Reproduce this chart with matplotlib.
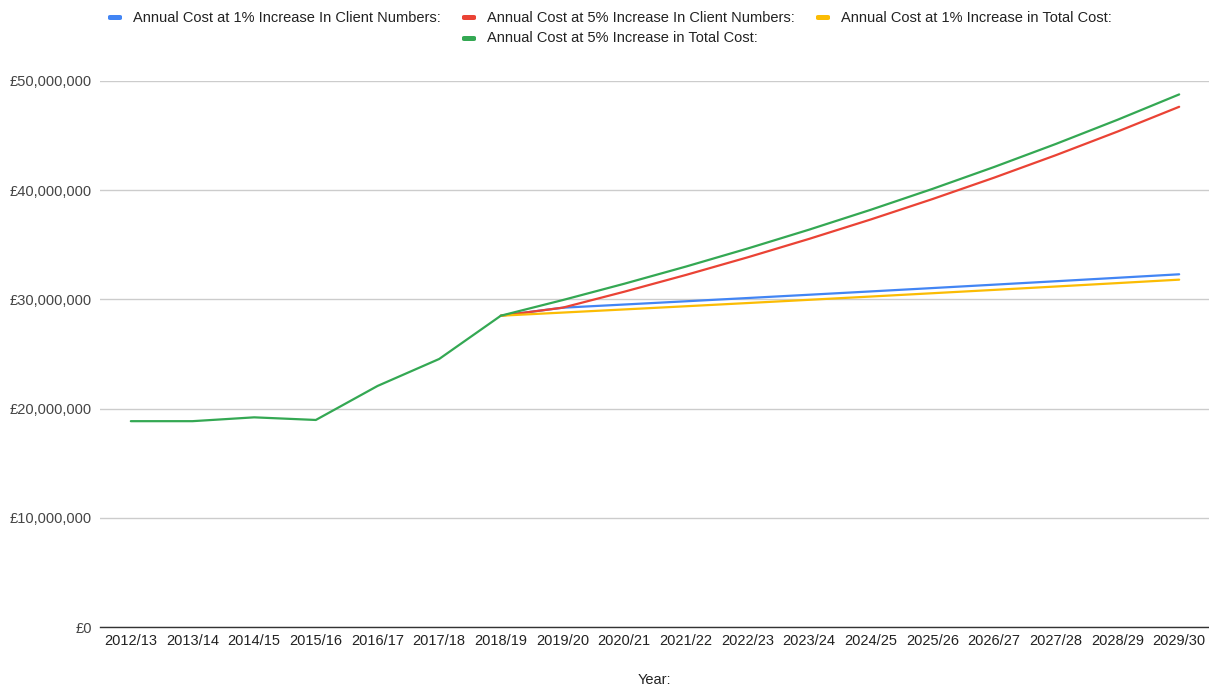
import matplotlib
matplotlib.use("Agg")
import matplotlib.pyplot as plt
from matplotlib.patches import FancyBboxPatch
from matplotlib.ticker import FuncFormatter

plt.rcParams["font.family"] = ["Liberation Sans", "DejaVu Sans"]

years = ["2012/13", "2013/14", "2014/15", "2015/16", "2016/17", "2017/18",
         "2018/19", "2019/20", "2020/21", "2021/22", "2022/23", "2023/24",
         "2024/25", "2025/26", "2026/27", "2027/28", "2028/29", "2029/30"]

# Recorded annual cost, shared by every scenario up to 2018/19
history = [18_850_000, 18_850_000, 19_200_000, 18_960_000,
           22_070_000, 24_540_000, 28_500_000]

# Projected annual cost, 2019/20 onwards
client_1pct = [29_230_000, 29_522_000, 29_818_000, 30_116_000, 30_417_000,
               30_721_000, 31_028_000, 31_339_000, 31_652_000, 31_968_000,
               32_288_000]
client_5pct = [29_230_000, 30_692_000, 32_226_000, 33_837_000, 35_529_000,
               37_306_000, 39_171_000, 41_130_000, 43_186_000, 45_345_000,
               47_613_000]
total_1pct = [28_785_000, 29_073_000, 29_364_000, 29_657_000, 29_954_000,
              30_253_000, 30_556_000, 30_861_000, 31_170_000, 31_482_000,
              31_797_000]
total_5pct = [29_925_000, 31_421_000, 32_992_000, 34_642_000, 36_374_000,
              38_193_000, 40_102_000, 42_107_000, 44_213_000, 46_424_000,
              48_745_000]

series_names = ["Annual Cost at 1% Increase In Client Numbers:",
                "Annual Cost at 5% Increase In Client Numbers:",
                "Annual Cost at 1% Increase in Total Cost:",
                "Annual Cost at 5% Increase in Total Cost:"]
series_values = [history + client_1pct, history + client_5pct,
                 history + total_1pct, history + total_5pct]
colors = ["#4285F4", "#EA4335", "#FBBC04", "#34A853"]

W, H = 1209, 688
fig = plt.figure(figsize=(W / 100, H / 100), dpi=100)
fig.patch.set_facecolor("white")

left, right, bottom, top = 100, 1210, 60.8, 80.7
ax = fig.add_axes([left / W, bottom / H, (right - left) / W, (H - top - bottom) / H])

x = list(range(len(years)))
n_hist = len(history)
last = len(series_values) - 1
for i, (vals, c) in enumerate(zip(series_values, colors)):
    # the shared history is drawn once, by the top-most series
    start = 0 if i == last else n_hist - 1
    ax.plot(x[start:], vals[start:], color=c, lw=1.6, solid_joinstyle="round",
            solid_capstyle="round", zorder=3, clip_on=False)

ax.set_xlim(-0.5, len(years) - 0.5)
ax.set_ylim(0, 50_000_000)
ax.set_yticks(range(0, 50_000_001, 10_000_000))
ax.yaxis.set_major_formatter(FuncFormatter(lambda v, p: f"£{int(v):,}"))
ax.set_xticks(x)
ax.set_xticklabels(years)

ax.grid(axis="y", color="#cccccc", lw=1.0)
ax.grid(axis="x", visible=False)
ax.set_axisbelow(True)
for side in ["top", "right", "left"]:
    ax.spines[side].set_visible(False)
ax.spines["bottom"].set_color("#333333")
ax.spines["bottom"].set_linewidth(1.0)
ax.spines["bottom"].set_zorder(2)

ax.tick_params(axis="y", length=0, pad=6, labelsize=10.5, labelcolor="#444444")
ax.tick_params(axis="x", length=0, pad=5, labelsize=10.5, labelcolor="#222222")

fig.text((left + W) / 2 / W, 1 - 680 / H, "Year:", ha="center", va="center",
         fontsize=10.5, color="#222222")

# Legend laid out in two rows like the chart header
legend_pos = [(108, 17.5), (462, 17.5), (816, 17.5), (462, 38.5)]
for (lx, ly), name, c in zip(legend_pos, series_names, colors):
    patch = FancyBboxPatch((lx / W, 1 - (ly + 2.5) / H), 14 / W, 5 / H,
                           boxstyle="round,pad=0,rounding_size=0.002",
                           transform=fig.transFigure, facecolor=c,
                           edgecolor="none")
    fig.patches.append(patch)
    fig.text((lx + 25) / W, 1 - ly / H, name, ha="left", va="center",
             fontsize=10.5, color="#222222")

fig.savefig("out.png", dpi=100, facecolor="white")
